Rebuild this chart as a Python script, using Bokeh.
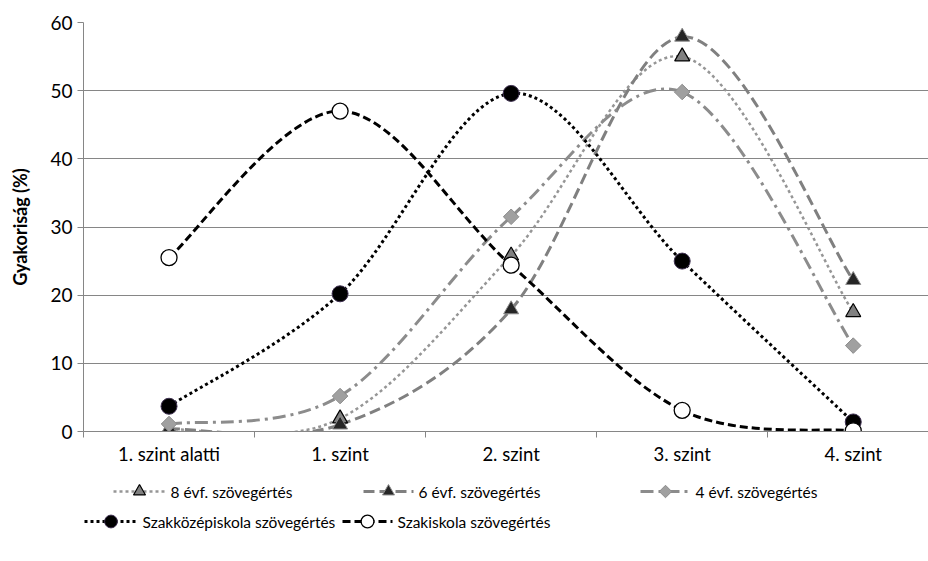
import numpy as np
from bokeh.plotting import figure
from bokeh.layouts import column
from bokeh.models import Range1d, FixedTicker, ColumnDataSource
from bokeh.embed import file_html
from bokeh.resources import INLINE
from bokeh.core.properties import value

# ---- data -------------------------------------------------------------
categories = ["1. szint alatti", "1. szint", "2. szint", "3. szint", "4. szint"]
y_ticks = [0, 10, 20, 30, 40, 50, 60]

series_names = [
    "8 évf. szövegértés",
    "6 évf. szövegértés",
    "4 évf. szövegértés",
    "Szakközépiskola szövegértés",
    "Szakiskola szövegértés",
]
evf8 = [0.3, 1.9, 25.8, 55.0, 17.5]
evf6 = [0.4, 1.0, 17.9, 57.9, 22.2]
evf4 = [1.1, 5.2, 31.5, 49.8, 12.6]
szakkozep = [3.7, 20.2, 49.6, 25.0, 1.4]
szakiskola = [25.5, 47.0, 24.4, 3.1, 0.1]
series_values = [evf8, evf6, evf4, szakkozep, szakiskola]

FONT = "Lato"
GRID = "#868686"

# ---- styles per series ------------------------------------------------
styles = [
    dict(line_color="#969696", line_width=2.5, line_dash="3 3",
         marker="triangle", size=15, fill="#808080", edge="#000000", edge_w=1.2, angle=0.0),
    dict(line_color="#808080", line_width=3, line_dash="11 5",
         marker="triangle", size=15, fill="#262626", edge="#8c8c8c", edge_w=1.0, angle=0.0),
    dict(line_color="#8c8c8c", line_width=3, line_dash="13 5 3 5",
         marker="square", size=11, fill="#a0a0a0", edge="#8c8c8c", edge_w=1.0, angle=np.pi / 4),
    dict(line_color="#000000", line_width=3, line_dash="3 3",
         marker="circle", size=16, fill="#000000", edge="#3f3151", edge_w=1.0, angle=0.0),
    dict(line_color="#000000", line_width=3, line_dash="8 4",
         marker="circle", size=16, fill="#ffffff", edge="#000000", edge_w=1.3, angle=0.0),
]


def smooth_segments(xs, ys):
    """Cubic Bezier pieces (Catmull-Rom style) through the given points."""
    P = np.column_stack([xs, ys]).astype(float)
    n = len(P)
    seg = {k: [] for k in ("x0", "y0", "x1", "y1", "cx0", "cy0", "cx1", "cy1")}
    for i in range(n - 1):
        p0 = P[max(i - 1, 0)]
        p1 = P[i]
        p2 = P[i + 1]
        p3 = P[min(i + 2, n - 1)]
        c0 = p1 + (p2 - p0) / 6.0
        c1 = p2 - (p3 - p1) / 6.0
        seg["x0"].append(p1[0]); seg["y0"].append(p1[1])
        seg["x1"].append(p2[0]); seg["y1"].append(p2[1])
        seg["cx0"].append(c0[0]); seg["cy0"].append(c0[1])
        seg["cx1"].append(c1[0]); seg["cy1"].append(c1[1])
    return ColumnDataSource(seg)


# ---- main chart -------------------------------------------------------
x_pos = list(range(len(categories)))

p = figure(width=928, height=470,
           x_range=Range1d(-0.5, 4.44), y_range=Range1d(0, 60),
           output_backend="svg", toolbar_location=None,
           min_border_left=83, min_border_right=0,
           min_border_top=22, min_border_bottom=39)
p.outline_line_color = None
p.background_fill_color = "white"
p.border_fill_color = "white"

p.xgrid.visible = False
p.ygrid.grid_line_color = GRID
p.ygrid.grid_line_width = 1
p.ygrid.ticker = FixedTicker(ticks=y_ticks)

xa = p.xaxis[0]
xa.ticker = FixedTicker(ticks=x_pos, minor_ticks=[i - 0.5 for i in range(len(categories) + 1)])
xa.major_label_overrides = {i: c for i, c in enumerate(categories)}
xa.major_tick_in = 0
xa.major_tick_out = 0
xa.minor_tick_in = 0
xa.minor_tick_out = 6
xa.minor_tick_line_color = GRID
xa.axis_line_color = GRID
xa.major_label_text_font = FONT
xa.major_label_text_font_size = "18.5px"
xa.major_label_text_color = "#000000"
xa.major_label_standoff = 5

ya = p.yaxis[0]
ya.ticker = FixedTicker(ticks=y_ticks)
ya.major_tick_in = 0
ya.major_tick_out = 6
ya.minor_tick_line_color = None
ya.major_tick_line_color = GRID
ya.axis_line_color = GRID
ya.major_label_text_font = FONT
ya.major_label_text_font_size = "19px"
ya.major_label_text_color = "#000000"
ya.major_label_standoff = 5
ya.axis_label = "Gyakoriság (%)"
ya.axis_label_text_font = FONT
ya.axis_label_text_font_size = "18px"
ya.axis_label_text_font_style = "bold"
ya.axis_label_text_color = "#000000"
ya.axis_label_standoff = 16

# curves first, markers on top
for vals, st in zip(series_values, styles):
    p.bezier(x0="x0", y0="y0", x1="x1", y1="y1", cx0="cx0", cy0="cy0",
             cx1="cx1", cy1="cy1", source=smooth_segments(x_pos, vals),
             line_color=st["line_color"], line_width=st["line_width"],
             line_dash=st["line_dash"])

for vals, st in zip(series_values, styles):
    p.scatter(x=x_pos, y=vals, marker=st["marker"], size=st["size"],
              angle=st["angle"], fill_color=st["fill"], line_color=st["edge"],
              line_width=st["edge_w"])

# ---- legend panel (x in page pixels) ----------------------------------
leg = figure(width=928, height=91, x_range=Range1d(83, 928), y_range=Range1d(91, 0),
             output_backend="svg", toolbar_location=None,
             x_axis_type=None, y_axis_type=None,
             min_border_left=83, min_border_right=0, min_border_top=0, min_border_bottom=0)
leg.outline_line_color = None
leg.grid.visible = False

# (line start, line end, row y) for each legend entry
slots = [(113, 165, 21), (363, 413, 21), (640, 690, 21), (84, 137, 51), (342, 392, 51)]
for name, st, (xa0, xa1, yy) in zip(series_names, styles, slots):
    leg.segment(x0=[xa0], y0=[yy], x1=[xa1], y1=[yy], line_color=st["line_color"],
                line_width=st["line_width"], line_dash=st["line_dash"])
    leg.scatter(x=[(xa0 + xa1) / 2], y=[yy], marker=st["marker"], size=st["size"] * 0.8,
                angle=st["angle"], fill_color=st["fill"], line_color=st["edge"],
                line_width=st["edge_w"])
    leg.text(x=[xa1 + 5], y=[yy], text=[name], text_font=value(FONT),
             text_font_size="15.5px", text_baseline="middle", text_color="#000000")

layout = column(p, leg, spacing=0)
open("out.html", "w").write(file_html(layout, INLINE))
